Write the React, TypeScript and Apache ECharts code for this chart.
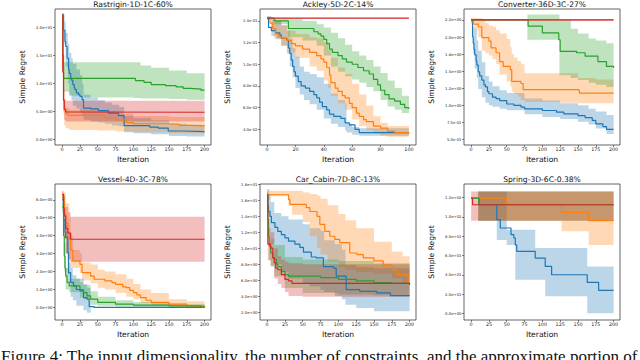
import React, { useEffect, useRef } from 'react';
import * as echarts from 'echarts';

const BLUE = '#1f77b4';
const ORANGE = '#ff7f0e';
const GREEN = '#2ca02c';
const RED = '#d62728';
const FONT = 'DejaVu Sans';

// ---------- tick values ----------
const iterTicks200 = [0, 25, 50, 75, 100, 125, 150, 175, 200];
const iterTicks100 = [0, 20, 40, 60, 80, 100];
const rastYTicks = [0, 5, 10, 15, 20];
const ackleyYTicks = [0.04, 0.06, 0.08, 0.1, 0.12, 0.14];
const convYTicks = [0.5, 0.75, 1.0, 1.25, 1.5, 1.75, 2.0, 2.25];
const vesselYTicks = [0, 1, 2, 3, 4, 5, 6];
const carYTicks = [2, 4, 6, 8, 10, 12, 14, 16, 18];
const springYTicks = [0, 20, 40, 60, 80, 100, 120];

const titles = [
  'Rastrigin-1D-1C-60%',
  'Ackley-5D-2C-14%',
  'Converter-36D-3C-27%',
  'Vessel-4D-3C-78%',
  'Car_Cabin-7D-8C-13%',
  'Spring-3D-6C-0.38%',
];
const xLabel = 'Iteration';
const yLabel = 'Simple Regret';
const caption =
  'Figure 4: The input dimensionality, the number of constraints, and the approximate portion of';

// ---------- Rastrigin ----------
const rastBlue = [[0,22.2],[2,19.5],[4,17.5],[5,16.6],[7,14.5],[9,12.5],[10,11.8],[12,11.0],[13,10.6],[15,9.8],[17,9.2],[18,8.9],[20,8.3],[23,8.0],[25,7.7],[28,7.1],[30,5.6],[40,5.45],[51,5.15],[65,4.7],[79,4.25],[87,2.45],[123,2.2],[135,2.0],[149,1.5],[170,1.4],[200,1.35]];
const rastBlueBand = [[0,21,22.5],[3,17,21],[5,13,19],[8,10,17],[10,8,15.5],[13,7,14.5],[15,6,13.5],[20,5.5,12.5],[25,4.8,11.5],[28,4.2,10],[30,3.5,8],[40,3.2,7.5],[50,3.0,7],[60,2.8,6.6],[70,2.5,6.2],[80,2.3,5.8],[87,1.3,4.2],[100,1.1,3.8],[125,0.9,3.4],[150,0.6,2.8],[175,0.5,2.6],[200,0.5,2.5]];
const rastOrange = [[0,22.2],[1,13],[2,7],[3,5.5],[5,4.6],[8,4.3],[50,4.2],[60,3.9],[75,3.5],[90,3.0],[100,2.8],[150,2.7],[165,2.5],[180,2.4],[200,2.3]];
const rastOrangeBand = [[0,21.5,22.5],[2,4.5,9],[3,2.5,6.2],[5,2.0,5.6],[10,1.7,5.3],[50,1.6,5.1],[75,1.4,4.6],[100,1.3,4.2],[150,1.1,4.0],[200,1.0,3.8]];
const rastGreen = [[0,22.2],[1,15],[2,10.9],[100,10.9],[103,10.5],[115,10.2],[125,9.8],[145,9.6],[160,9.4],[170,9.1],[180,9.0],[195,8.8],[200,8.8]];
const rastGreenBand = [[0,21.5,22.5],[2,8.5,13.8],[10,7.8,13.8],[30,7.5,13.8],[100,7.4,13.8],[110,7.3,13.2],[125,7.3,12.8],[150,7.2,12.3],[175,7.1,11.8],[200,7.0,11.5]];
const rastRed = [[0,22.2],[1,12],[2,7],[3,5.3],[5,4.9],[10,4.85],[200,4.8]];
const rastRedBand = [[0,21.5,22.5],[2,5,9],[3,3.5,7.2],[5,3.2,6.9],[200,3.0,6.8]];

// ---------- Ackley ----------
const ackBlue = [[0,0.1425],[1,0.134],[3,0.131],[6,0.129],[9,0.127],[10,0.124],[14,0.122],[15,0.115],[16,0.110],[17,0.104],[18,0.098],[19,0.093],[20,0.089],[22,0.084],[24,0.080],[27,0.078],[30,0.075],[33,0.072],[35,0.069],[37,0.065],[39,0.061],[42,0.058],[44,0.054],[47,0.052],[52,0.050],[55,0.046],[58,0.044],[62,0.040],[65,0.037],[100,0.037]];
const ackBlueBand = [[0,0.141,0.1445],[3,0.126,0.1425],[6,0.123,0.14],[10,0.117,0.136],[14,0.110,0.131],[16,0.098,0.124],[18,0.088,0.115],[20,0.078,0.107],[23,0.072,0.098],[26,0.067,0.093],[30,0.063,0.091],[35,0.058,0.088],[40,0.050,0.082],[45,0.045,0.073],[50,0.042,0.067],[55,0.039,0.064],[56,0.037,0.045],[60,0.035,0.042],[65,0.034,0.041],[100,0.034,0.041]];
const ackOrange = [[0,0.1425],[2,0.138],[4,0.133],[6,0.128],[8,0.125],[10,0.124],[14,0.122],[17,0.119],[20,0.117],[25,0.114],[30,0.111],[35,0.108],[38,0.105],[40,0.102],[42,0.097],[44,0.090],[45,0.083],[48,0.078],[50,0.075],[53,0.071],[55,0.069],[58,0.064],[60,0.060],[63,0.055],[65,0.052],[68,0.049],[70,0.047],[75,0.043],[80,0.041],[85,0.038],[90,0.037],[100,0.036]];
const ackOrangeBand = [[0,0.1425,0.1425],[3,0.130,0.141],[5,0.124,0.14],[10,0.117,0.136],[15,0.111,0.131],[20,0.106,0.128],[30,0.098,0.125],[35,0.094,0.124],[40,0.085,0.120],[43,0.078,0.113],[45,0.071,0.106],[50,0.064,0.097],[55,0.058,0.091],[60,0.049,0.082],[65,0.043,0.072],[70,0.039,0.062],[75,0.036,0.052],[80,0.034,0.046],[85,0.033,0.043],[100,0.033,0.042]];
const ackGreen = [[0,0.1425],[5,0.140],[15,0.133],[33,0.130],[36,0.128],[38,0.126],[40,0.123],[42,0.119],[44,0.114],[46,0.111],[50,0.108],[53,0.105],[56,0.102],[60,0.100],[64,0.097],[68,0.094],[72,0.091],[75,0.086],[78,0.081],[80,0.076],[83,0.072],[86,0.068],[90,0.066],[94,0.063],[97,0.060],[100,0.059]];
const ackGreenBand = [[0,0.1425,0.1425],[5,0.137,0.1425],[15,0.125,0.1415],[25,0.122,0.140],[35,0.117,0.137],[40,0.108,0.134],[45,0.098,0.129],[50,0.093,0.124],[55,0.089,0.118],[60,0.086,0.112],[65,0.083,0.108],[70,0.079,0.104],[75,0.075,0.098],[80,0.067,0.092],[85,0.061,0.085],[90,0.058,0.078],[95,0.055,0.071],[100,0.053,0.065]];
const ackRed = [[0,0.1425],[100,0.1425]];
const ackRedBand = [[0,0.1422,0.1428],[100,0.1422,0.1428]];

// ---------- Converter ----------
const convBlue = [[0,2.25],[2,2.0],[3,1.91],[4,1.82],[5,1.74],[7,1.65],[8,1.59],[10,1.49],[12,1.43],[15,1.37],[18,1.3],[20,1.27],[23,1.2],[25,1.17],[30,1.12],[35,1.1],[40,1.07],[50,1.02],[60,1.0],[70,0.975],[75,0.95],[100,0.925],[120,0.9],[130,0.876],[150,0.85],[160,0.82],[170,0.78],[175,0.73],[185,0.69],[190,0.65],[200,0.64]];
const convBlueBand = [[0,2.2,2.25],[3,1.75,2.15],[5,1.54,2.11],[8,1.4,1.95],[10,1.24,1.8],[15,1.12,1.63],[20,1.04,1.43],[25,1.0,1.35],[30,0.98,1.28],[40,0.95,1.22],[50,0.93,1.18],[75,0.87,1.1],[100,0.83,1.07],[125,0.8,1.03],[150,0.76,1.0],[165,0.72,0.95],[175,0.66,0.91],[190,0.58,0.86],[200,0.53,0.8]];
const convOrange = [[0,2.25],[3,2.19],[10,2.15],[15,1.99],[25,1.94],[28,1.84],[35,1.77],[40,1.64],[45,1.57],[55,1.52],[57,1.35],[70,1.32],[73,1.23],[150,1.22],[152,1.18],[200,1.18]];
const convOrangeBand = [[0,2.2,2.28],[5,2.1,2.28],[10,2.0,2.28],[15,1.8,2.25],[20,1.76,2.2],[25,1.73,2.17],[30,1.68,2.15],[35,1.6,2.1],[40,1.45,2.05],[50,1.35,1.97],[55,1.28,1.85],[57,1.2,1.75],[60,1.17,1.7],[65,1.13,1.65],[70,1.08,1.6],[75,1.05,1.47],[125,1.04,1.47],[150,1.03,1.4],[175,1.03,1.38],[200,1.02,1.35]];
const convGreen = [[0,2.25],[80,2.16],[100,2.06],[123,1.96],[125,1.79],[148,1.77],[160,1.72],[178,1.64],[190,1.57],[200,1.55]];
const convGreenBand = [[0,2.25,2.25],[79,1.96,2.33],[124,1.44,2.25],[140,1.40,2.12],[150,1.37,2.05],[165,1.33,1.98],[175,1.30,1.95],[190,1.27,1.91],[200,1.25,1.9]];
const convRed = [[0,2.25],[200,2.25]];
const convRedBand = [[0,2.235,2.265],[200,2.235,2.265]];

// ---------- Vessel ----------
const vesBlue = [[0,6.0],[2,4.9],[4,4.2],[5,3.9],[8,3.05],[9,1.94],[12,1.4],[16,1.2],[20,1.0],[25,0.92],[30,0.55],[35,0.46],[38,0.05],[45,0.0],[200,0.0]];
const vesBlueBand = [[0,5.7,6.2],[3,4.0,5.6],[5,3.0,4.6],[8,1.8,4.2],[10,1.4,2.5],[12,0.6,2.2],[15,0.4,1.8],[20,0.1,1.6],[30,-0.15,1.3],[35,-0.3,1.1],[40,0,0],[200,0,0]];
const vesOrange = [[0,6.2],[3,5.2],[5,4.7],[8,4.2],[10,3.8],[12,3.2],[15,2.6],[25,2.4],[28,1.94],[40,1.75],[45,1.57],[60,1.48],[70,1.38],[75,1.29],[85,1.15],[90,1.1],[95,0.95],[100,0.83],[105,0.7],[110,0.55],[118,0.4],[125,0.28],[150,0.18],[175,0.09],[200,0.0]];
const vesOrangeBand = [[0,6.0,6.4],[5,3.8,5.8],[10,2.6,5.0],[12,2.2,4.0],[15,2.2,3.2],[25,1.9,3.0],[28,1.5,2.5],[40,1.35,2.4],[50,1.1,2.1],[60,1.0,2.0],[75,0.8,1.85],[90,0.6,1.6],[100,0.45,1.3],[110,0.25,1.0],[125,0.1,0.8],[150,0.05,0.45],[175,-0.05,0.35],[200,-0.03,0.05]];
const vesGreen = [[0,5.6],[2,4.0],[3,2.86],[4,2.2],[5,1.75],[7,1.4],[10,1.2],[25,1.0],[30,0.83],[35,0.65],[40,0.46],[50,0.28],[75,0.18],[100,0.13],[150,0.09],[175,0.09],[195,0.02],[200,0.0]];
const vesGreenBand = [[0,5.3,5.8],[3,2.0,3.6],[5,1.0,2.2],[10,0.85,1.6],[25,0.55,1.4],[30,0.45,1.25],[40,0.15,0.9],[50,0.1,0.6],[75,0.05,0.4],[100,0.03,0.3],[150,0.0,0.2],[175,-0.02,0.18],[200,-0.02,0.02]];
const vesRed = [[0,6.3],[2,5.5],[3,5.1],[5,4.4],[8,4.15],[12,3.8],[200,3.8]];
const vesRedBand = [[0,6.0,6.5],[2,4.5,6.1],[3,3.8,5.9],[5,3.0,5.6],[8,2.7,5.3],[12,2.55,5.05],[200,2.55,5.05]];

// ---------- Car_Cabin ----------
const carBlue = [[0,16.7],[1,15.3],[2,14.6],[4,14.0],[6,13.2],[11,12.6],[15,12.1],[20,11.7],[25,11.3],[30,10.9],[39,10.5],[46,10.1],[51,9.5],[62,8.9],[69,8.8],[79,7.7],[93,7.5],[97,6.5],[111,4.8],[130,4.6],[154,4.4],[173,4.05],[200,3.97]];
const carBlueBand = [[0,16.0,17.4],[3,12.0,16.8],[5,10.5,15.8],[10,8.0,14.4],[20,7.0,14.0],[30,6.2,13.6],[50,5.5,13.0],[60,5.2,12.5],[75,4.8,12.2],[80,4.5,11.0],[95,4.0,10.5],[105,3.6,9.8],[110,2.9,7.9],[125,2.5,7.6],[150,2.1,7.5],[200,1.8,7.4]];
const carOrange = [[0,16.7],[30,16.1],[32,15.5],[55,15.1],[60,14.6],[70,14.0],[74,13.0],[81,12.1],[88,11.5],[95,11.1],[102,10.7],[116,9.4],[126,9.2],[135,8.8],[150,8.4],[163,7.9],[175,7.3],[182,6.7],[196,6.6],[198,5.6],[200,5.6]];
const carOrangeBand = [[0,16.5,17.2],[30,15.3,17.2],[35,14.2,17.2],[50,13.3,17.0],[60,11.5,16.8],[70,10.0,16.6],[75,9.2,16.2],[85,8.3,15.4],[100,7.6,14.3],[110,7.3,13.5],[125,7.0,12.5],[150,6.8,10.8],[175,6.2,9.6],[190,5.5,9.0],[200,4.5,8.6]];
const carGreen = [[0,16.7],[1,13.6],[2,11.5],[3,10.25],[5,9.4],[8,8.8],[10,8.6],[13,8.0],[15,7.7],[20,7.1],[25,6.7],[30,6.5],[75,6.3],[100,6.1],[125,5.9],[150,5.7],[175,5.6],[200,5.6]];
const carGreenBand = [[0,16.2,17.0],[1,11.5,15.5],[3,8.5,12.0],[5,7.7,11.2],[10,6.5,10.4],[25,5.0,8.9],[50,4.4,8.6],[100,4.2,8.4],[150,4.1,8.1],[200,4.0,7.95]];
const carRed = [[0,16.7],[1,10.5],[5,10.0],[8,8.8],[10,8.2],[12,7.5],[15,7.3],[20,6.7],[25,6.1],[30,5.9],[35,5.6],[200,5.4]];
const carRedBand = [[0,16.2,17.0],[1,8.5,12.5],[5,7.8,12.0],[10,6.2,10.0],[15,5.5,9.0],[20,5.0,8.6],[25,4.5,8.3],[30,4.0,8.1],[50,3.9,8.0],[200,3.8,7.7]];

// ---------- Spring ----------
const sprBlue = [[0,119.3],[11,112.4],[35,112.4],[36,97],[41,88.4],[56,81.5],[60,78],[62,71],[64,64.3],[90,57.4],[104,48.8],[113,40.2],[163,32.3],[179,24.0],[200,24.0]];
const sprBlueBand = [[0,119.3,119.3],[10,96,126],[36,76,126],[50,71,86.7],[62,35,86.7],[90,35,67.7],[104,18,67.7],[163,0.5,48.8],[200,0.5,48.8]];
const sprOrange = [[0,119.3],[50,113.0],[127,104.5],[165,96.0],[200,96.0]];
const sprOrangeBand = [[0,119.3,119.3],[10,96,126],[127,85,126],[165,71,126],[200,71,126]];
const sprGreen = [[0,119.3],[11,112.4],[200,112.4]];
const sprGreenBand = [[0,119.3,119.3],[10,96,126],[200,96,126]];
const sprRed = [[0,119],[2,112.4],[200,112.4]];
const sprRedBand = [[0,96,126],[200,96,126]];

// ---------- layout ----------
const colLeft = [55, 260, 464];
const rowTop = [9, 184];
const plotW = 156;
const plotH = 136;

type Line = { color: string; mean: number[][]; band: number[][] };
type Panel = {
  title: string; xMin: number; xMax: number; xTicks: number[];
  yMin: number; yMax: number; yTicks: number[]; lines: Line[];
};

const panels: Panel[] = [
  { title: titles[0], xMin: -10, xMax: 209, xTicks: iterTicks200, yMin: -1.0, yMax: 23.3, yTicks: rastYTicks,
    lines: [
      { color: BLUE, mean: rastBlue, band: rastBlueBand },
      { color: ORANGE, mean: rastOrange, band: rastOrangeBand },
      { color: GREEN, mean: rastGreen, band: rastGreenBand },
      { color: RED, mean: rastRed, band: rastRedBand },
    ] },
  { title: titles[1], xMin: -5, xMax: 105, xTicks: iterTicks100, yMin: 0.0255, yMax: 0.151, yTicks: ackleyYTicks,
    lines: [
      { color: BLUE, mean: ackBlue, band: ackBlueBand },
      { color: ORANGE, mean: ackOrange, band: ackOrangeBand },
      { color: GREEN, mean: ackGreen, band: ackGreenBand },
      { color: RED, mean: ackRed, band: ackRedBand },
    ] },
  { title: titles[2], xMin: -10, xMax: 209, xTicks: iterTicks200, yMin: 0.42, yMax: 2.41, yTicks: convYTicks,
    lines: [
      { color: BLUE, mean: convBlue, band: convBlueBand },
      { color: ORANGE, mean: convOrange, band: convOrangeBand },
      { color: GREEN, mean: convGreen, band: convGreenBand },
      { color: RED, mean: convRed, band: convRedBand },
    ] },
  { title: titles[3], xMin: -10, xMax: 209, xTicks: iterTicks200, yMin: -0.7, yMax: 6.88, yTicks: vesselYTicks,
    lines: [
      { color: BLUE, mean: vesBlue, band: vesBlueBand },
      { color: ORANGE, mean: vesOrange, band: vesOrangeBand },
      { color: GREEN, mean: vesGreen, band: vesGreenBand },
      { color: RED, mean: vesRed, band: vesRedBand },
    ] },
  { title: titles[4], xMin: -10, xMax: 209, xTicks: iterTicks200, yMin: 1.0, yMax: 18.05, yTicks: carYTicks,
    lines: [
      { color: BLUE, mean: carBlue, band: carBlueBand },
      { color: ORANGE, mean: carOrange, band: carOrangeBand },
      { color: GREEN, mean: carGreen, band: carGreenBand },
      { color: RED, mean: carRed, band: carRedBand },
    ] },
  { title: titles[5], xMin: -10, xMax: 209, xTicks: iterTicks200, yMin: -6.5, yMax: 133.8, yTicks: springYTicks,
    lines: [
      { color: BLUE, mean: sprBlue, band: sprBlueBand },
      { color: ORANGE, mean: sprOrange, band: sprOrangeBand },
      { color: GREEN, mean: sprGreen, band: sprGreenBand },
      { color: RED, mean: sprRed, band: sprRedBand },
    ] },
];

function sci(v: number): string {
  if (Math.abs(v) < 1e-12) return '0.0e+00';
  let e = Math.floor(Math.log10(Math.abs(v)) + 1e-9);
  const t = (v / Math.pow(10, e)) * 10;
  const f = Math.floor(t + 1e-9);
  let r: number;
  if (Math.abs(t - f - 0.5) < 1e-6) r = f % 2 === 0 ? f : f + 1;
  else r = Math.round(t);
  if (r >= 100) { r = r / 10; e += 1; }
  const es = (e < 0 ? '-' : '+') + String(Math.abs(e)).padStart(2, '0');
  return (r / 10).toFixed(1) + 'e' + es;
}

function rgba(hex: string, a: number): string {
  const n = parseInt(hex.slice(1), 16);
  return `rgba(${(n >> 16) & 255},${(n >> 8) & 255},${n & 255},${a})`;
}

function buildOption() {
  const grid: any[] = [];
  const xAxis: any[] = [];
  const yAxis: any[] = [];
  const series: any[] = [];
  const graphic: any[] = [];
  panels.forEach((p, i) => {
    const left = colLeft[i % 3];
    const top = rowTop[Math.floor(i / 3)];
    grid.push({ left, top, width: plotW, height: plotH, show: true, borderColor: '#3c3c3c', borderWidth: 0.8, backgroundColor: 'transparent' });
    xAxis.push({
      type: 'value', gridIndex: i, min: p.xMin, max: p.xMax,
      axisLine: { show: false, onZero: false },
      axisTick: { show: true, length: 2, lineStyle: { color: '#333', width: 0.6 }, customValues: p.xTicks },
      axisLabel: { customValues: p.xTicks, fontSize: 4.8, margin: 2, color: '#222', fontFamily: FONT },
      splitLine: { show: false },
    });
    yAxis.push({
      type: 'value', gridIndex: i, min: p.yMin, max: p.yMax,
      axisLine: { show: false, onZero: false },
      axisTick: { show: true, length: 2, lineStyle: { color: '#333', width: 0.6 }, customValues: p.yTicks },
      axisLabel: { customValues: p.yTicks, fontSize: 3.8, margin: 2.5, color: '#222', fontFamily: FONT, formatter: (v: number) => sci(v) },
      splitLine: { show: false },
    });
    p.lines.forEach((ln) => {
      const band = ln.band;
      series.push({
        type: 'custom', xAxisIndex: i, yAxisIndex: i, silent: true, z: 1,
        data: band,
        encode: { x: 0, y: [1, 2] },
        renderItem: (params: any, api: any) => {
          if (params.dataIndex !== 0) return null;
          const pts: number[][] = [];
          for (let k = 0; k < band.length; k++) {
            pts.push(api.coord([band[k][0], band[k][2]]));
            if (k + 1 < band.length) pts.push(api.coord([band[k + 1][0], band[k][2]]));
          }
          for (let k = band.length - 1; k >= 0; k--) {
            if (k + 1 < band.length) pts.push(api.coord([band[k + 1][0], band[k][1]]));
            pts.push(api.coord([band[k][0], band[k][1]]));
          }
          return { type: 'polygon', shape: { points: pts }, style: { fill: rgba(ln.color, 0.3), stroke: 'none' }, silent: true };
        },
      });
    });
    p.lines.forEach((ln) => {
      series.push({
        type: 'line', xAxisIndex: i, yAxisIndex: i, data: ln.mean, step: 'end', symbol: 'none',
        lineStyle: { color: ln.color, width: 1.2 }, itemStyle: { color: ln.color }, silent: true, z: 3,
      });
    });
    const cx = left + plotW / 2;
    graphic.push({ type: 'text', x: cx, y: top - 5, style: { text: p.title, fontSize: 7.6, fontFamily: FONT, fill: '#111', align: 'center', verticalAlign: 'middle' } });
    graphic.push({ type: 'text', x: cx, y: top + plotH + 14, style: { text: xLabel, fontSize: 7.6, fontFamily: FONT, fill: '#111', align: 'center', verticalAlign: 'middle' } });
    graphic.push({ type: 'text', x: left - 33, y: top + plotH / 2, rotation: Math.PI / 2, style: { text: yLabel, fontSize: 7.6, fontFamily: FONT, fill: '#111', align: 'center', verticalAlign: 'middle' } });
  });
  graphic.push({ type: 'text', x: 1, y: 356, style: { text: caption, fontSize: 17, fontFamily: 'Liberation Serif', fill: '#111', align: 'left', verticalAlign: 'middle' } });
  return { animation: false, backgroundColor: '#ffffff', grid, xAxis, yAxis, series, graphic };
}

export default function App() {
  const ref = useRef<HTMLDivElement>(null);
  useEffect(() => {
    if (!ref.current) return;
    const chart = echarts.init(ref.current, null, { renderer: 'svg' });
    chart.setOption(buildOption() as any);
    return () => chart.dispose();
  }, []);
  return <div ref={ref} style={{ position: 'absolute', left: 0, top: 0, width: 640, height: 360 }} />;
}
